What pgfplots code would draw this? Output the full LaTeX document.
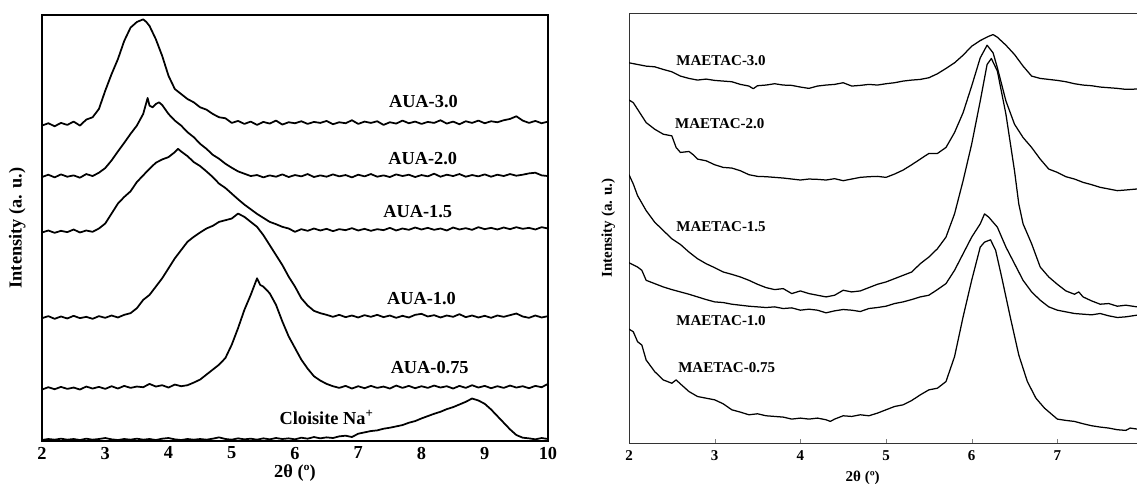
\documentclass[border=0pt]{standalone}
\usepackage{fontspec}
\setmainfont{Liberation Serif}
\usepackage{pgfplots}
\pgfplotsset{compat=1.18}

\newcommand{\lf}{\bfseries\fontsize{11}{13}\selectfont}
\newcommand{\rf}{\bfseries\fontsize{9}{11}\selectfont}

\pgfplotsset{
  xrd/.style={
    scale only axis,
    ytick=\empty,
    no markers,
    cycle list={{black}},
    /pgf/number format/assume math mode=true,
    every axis plot/.append style={line width=1.05pt, line join=round},
  },
}

\begin{document}
\begin{tikzpicture}
\path[use as bounding box] (0,0) rectangle (682.2pt,289.8pt);

% ---- left panel: AUA series ----
\begin{axis}[xrd,
  at={(25.2pt,25.2pt)}, anchor=south west,
  width=303.6pt, height=255.6pt,
  xmin=2, xmax=10, ymin=0, ymax=1283,
  xtick={2,3,...,10},
  major tick length=0pt,
  axis line style={line width=0.9pt},
  xticklabel style={font=\lf, yshift=0pt},
  xlabel={2θ (º)},
  ylabel={Intensity (a. u.)},
  every axis x label/.style={at={(axis description cs:0.5,0)}, anchor=center, yshift=-19.5pt, font=\lf},
  every axis y label/.style={at={(axis description cs:-0.021,0.5)}, rotate=90, anchor=south, font=\lf},
]
\addplot coordinates {(2.0,950) (2.1,957) (2.2,948) (2.3,958) (2.4,952) (2.5,962) (2.6,950) (2.7,968) (2.8,975) (2.9,1000) (3.0,1055) (3.1,1105) (3.2,1150) (3.3,1205) (3.4,1245) (3.5,1262) (3.6,1270) (3.65,1262) (3.7,1250) (3.8,1210) (3.9,1160) (4.0,1100) (4.1,1060) (4.2,1045) (4.3,1030) (4.4,1020) (4.5,1005) (4.6,998) (4.7,985) (4.8,975) (4.9,972)
(5.0,958) (5.1,964) (5.2,955) (5.3,962) (5.4,952) (5.5,961) (5.6,956) (5.7,965) (5.8,953) (5.9,960) (6.0,957) (6.1,963) (6.2,955) (6.3,961) (6.4,958) (6.5,964) (6.6,954) (6.7,960) (6.8,957) (6.9,966) (7.0,955) (7.1,962) (7.2,958) (7.3,963) (7.4,952) (7.5,960) (7.6,956) (7.7,965) (7.8,957) (7.9,962) (8.0,955) (8.1,961) (8.2,958) (8.3,966) (8.4,956) (8.5,962) (8.6,954) (8.7,963) (8.8,958) (8.9,965) (9.0,957) (9.1,963) (9.2,960) (9.3,966) (9.4,970) (9.5,978) (9.6,965) (9.7,958) (9.8,964) (9.9,957) (10.0,962)};
\addplot coordinates {(2.0,795) (2.1,802) (2.2,794) (2.3,803) (2.4,796) (2.5,800) (2.6,793) (2.7,804) (2.8,798) (2.9,808) (3.0,822) (3.1,845) (3.2,872) (3.3,898) (3.4,925) (3.5,950) (3.6,985) (3.67,1033) (3.7,1010) (3.75,1005) (3.8,1015) (3.85,1020) (3.9,1012) (4.0,985) (4.1,965) (4.2,950) (4.3,930) (4.4,915) (4.5,895) (4.6,880) (4.7,862) (4.8,850) (4.9,835) (5.0,823) (5.1,812) (5.2,805) (5.3,798) (5.4,801) (5.5,794) (5.6,800) (5.7,796) (5.8,803) (5.9,795) (6.0,801) (6.1,797) (6.2,804) (6.3,795) (6.4,800) (6.5,796) (6.6,803) (6.7,797) (6.8,801) (6.9,794) (7.0,802) (7.1,797) (7.2,804) (7.3,796) (7.4,800) (7.5,795) (7.6,803) (7.7,798) (7.8,802) (7.9,795) (8.0,801) (8.1,797) (8.2,805) (8.3,796) (8.4,802) (8.5,798) (8.6,804) (8.7,796) (8.8,801) (8.9,797) (9.0,803) (9.1,796) (9.2,802) (9.3,798) (9.4,804) (9.5,799) (9.6,802) (9.7,806) (9.8,808) (9.9,800) (10.0,798)};
\addplot coordinates {(2.0,628) (2.1,634) (2.2,627) (2.3,633) (2.4,629) (2.5,637) (2.6,628) (2.7,634) (2.8,630) (2.9,640) (3.0,655) (3.1,685) (3.2,715) (3.3,735) (3.4,752) (3.5,780) (3.6,800) (3.7,820) (3.8,838) (3.9,848) (4.0,855) (4.1,870) (4.15,880) (4.2,872) (4.3,858) (4.4,840) (4.5,828) (4.6,812) (4.7,795) (4.8,775) (4.9,762) (5.0,745) (5.1,728) (5.2,712) (5.3,698) (5.4,684) (5.5,672) (5.6,660) (5.7,653) (5.8,645) (5.9,640) (6.0,630) (6.1,638) (6.2,633) (6.3,640) (6.4,634) (6.5,639) (6.6,632) (6.7,638) (6.8,635) (6.9,641) (7.0,634) (7.1,639) (7.2,633) (7.3,638) (7.4,635) (7.5,642) (7.6,634) (7.7,640) (7.8,636) (7.9,643) (8.0,637) (8.1,642) (8.2,636) (8.3,640) (8.4,634) (8.5,643) (8.6,637) (8.7,641) (8.8,636) (8.9,644) (9.0,638) (9.1,642) (9.2,637) (9.3,643) (9.4,638) (9.5,644) (9.6,639) (9.7,642) (9.8,637) (9.9,644) (10.0,640)};
\addplot coordinates {(2.0,370) (2.1,376) (2.2,368) (2.3,375) (2.4,369) (2.5,377) (2.6,370) (2.7,374) (2.8,368) (2.9,376) (3.0,371) (3.1,378) (3.2,372) (3.3,380) (3.4,385) (3.5,400) (3.6,425) (3.7,440) (3.8,465) (3.9,490) (4.0,520) (4.1,550) (4.2,575) (4.3,600) (4.4,615) (4.5,628) (4.6,640) (4.7,648) (4.8,660) (4.9,665) (5.0,670) (5.1,685) (5.2,675) (5.3,660) (5.4,645) (5.5,620) (5.6,590) (5.7,560) (5.8,530) (5.9,495) (6.0,465) (6.1,430) (6.2,408) (6.3,392) (6.4,385) (6.5,380) (6.6,374) (6.7,380) (6.8,373) (6.9,378) (7.0,372) (7.1,379) (7.2,374) (7.3,380) (7.4,373) (7.5,378) (7.6,371) (7.7,377) (7.8,372) (7.9,380) (8.0,383) (8.1,375) (8.2,379) (8.3,372) (8.4,378) (8.5,374) (8.6,382) (8.7,373) (8.8,378) (8.9,372) (9.0,377) (9.1,371) (9.2,378) (9.3,374) (9.4,379) (9.5,384) (9.6,375) (9.7,371) (9.8,378) (9.9,372) (10.0,376)};
\addplot coordinates {(2.0,155) (2.1,162) (2.2,156) (2.3,163) (2.4,157) (2.5,161) (2.6,155) (2.7,164) (2.8,158) (2.9,163) (3.0,157) (3.1,165) (3.2,158) (3.3,166) (3.4,160) (3.5,164) (3.6,162) (3.7,172) (3.8,164) (3.9,168) (4.0,161) (4.1,170) (4.2,165) (4.3,168) (4.4,176) (4.5,185) (4.6,200) (4.7,215) (4.8,230) (4.9,250) (5.0,290) (5.1,340) (5.2,395) (5.3,440) (5.4,490) (5.45,470) (5.5,465) (5.6,445) (5.7,410) (5.8,360) (5.9,315) (6.0,280) (6.1,245) (6.2,218) (6.3,195) (6.4,182) (6.5,172) (6.6,165) (6.7,160) (6.8,166) (6.9,158) (7.0,165) (7.1,159) (7.2,166) (7.3,160) (7.4,164) (7.5,158) (7.6,167) (7.7,160) (7.8,166) (7.9,159) (8.0,165) (8.1,160) (8.2,167) (8.3,161) (8.4,165) (8.5,158) (8.6,166) (8.7,160) (8.8,168) (8.9,161) (9.0,166) (9.1,159) (9.2,165) (9.3,160) (9.4,167) (9.5,161) (9.6,165) (9.7,159) (9.8,166) (9.9,162) (10.0,172)};
\addplot coordinates {(2.0,3) (2.1,6) (2.2,4) (2.3,7) (2.4,4) (2.5,6) (2.6,3) (2.7,7) (2.8,4) (2.9,6) (3.0,9) (3.1,5) (3.2,3) (3.3,6) (3.4,4) (3.5,7) (3.6,4) (3.7,6) (3.8,3) (3.9,7) (4.0,9) (4.1,5) (4.2,3) (4.3,6) (4.4,4) (4.5,6) (4.6,4) (4.7,7) (4.8,11) (4.9,6) (5.0,4) (5.1,8) (5.2,5) (5.3,7) (5.4,4) (5.5,8) (5.6,5) (5.7,9) (5.8,6) (5.9,8) (6.0,5) (6.1,10) (6.2,7) (6.3,12) (6.4,8) (6.5,11) (6.6,9) (6.7,14) (6.8,16) (6.9,12) (7.0,22) (7.1,26) (7.2,30) (7.3,32) (7.4,37) (7.5,40) (7.6,44) (7.7,48) (7.8,55) (7.9,60) (8.0,68) (8.1,75) (8.2,82) (8.3,88) (8.4,96) (8.5,102) (8.6,110) (8.7,118) (8.8,128) (8.9,122) (9.0,112) (9.1,95) (9.2,75) (9.3,55) (9.4,35) (9.5,18) (9.6,10) (9.7,8) (9.8,5) (9.9,9) (10.0,6)};
\node[font=\lf] at (axis cs:8.03,1022) {AUA-3.0};
\node[font=\lf] at (axis cs:8.02,850) {AUA-2.0};
\node[font=\lf] at (axis cs:7.94,690) {AUA-1.5};
\node[font=\lf] at (axis cs:8.0,430) {AUA-1.0};
\node[font=\lf] at (axis cs:8.13,222) {AUA-0.75};
\node[font=\lf] at (axis cs:6.5,70) {Cloisite Na\textsuperscript{+}};
\end{axis}

% ---- right panel: MAETAC series ----
\begin{axis}[xrd,
  at={(377.4pt,24pt)}, anchor=south west,
  width=304.8pt, height=258pt,
  xmin=2, xmax=7.93, ymin=0, ymax=1295,
  xtick={2,3,...,7},
  axis x line*=box, axis y line*=left,
  xtick pos=left,
  major tick length=2.4pt,
  axis line style={line width=0.6pt, black!80},
  xticklabel style={font=\rf, yshift=-1pt},
  xlabel={2θ (º)},
  ylabel={Intensity (a. u.)},
  every axis x label/.style={at={(axis description cs:0.46,0)}, anchor=center, yshift=-21pt, font=\rf},
  every axis y label/.style={at={(axis description cs:-0.016,0.5)}, rotate=90, anchor=south, font=\rf},
  every axis plot/.append style={line width=0.75pt},
]
\addplot coordinates {(2.0,1145) (2.1,1140) (2.2,1135) (2.3,1133) (2.4,1125) (2.5,1118) (2.6,1105) (2.7,1098) (2.8,1093) (2.9,1096) (3.0,1092) (3.1,1090) (3.2,1088) (3.3,1080) (3.4,1075) (3.45,1067) (3.5,1076) (3.6,1078) (3.7,1082) (3.8,1078) (3.9,1077) (4.0,1072) (4.1,1068) (4.2,1075) (4.3,1078) (4.4,1080) (4.5,1085) (4.6,1075) (4.7,1077) (4.8,1080) (4.9,1078) (5.0,1082) (5.1,1085) (5.2,1090) (5.3,1093) (5.4,1095) (5.5,1100) (5.6,1112) (5.7,1128) (5.8,1145) (5.9,1168) (6.0,1195) (6.1,1212) (6.2,1225) (6.25,1230) (6.3,1222) (6.4,1198) (6.5,1170) (6.6,1135) (6.7,1105) (6.8,1098) (6.9,1095) (7.0,1092) (7.1,1088) (7.2,1082) (7.3,1078) (7.4,1076) (7.5,1072) (7.6,1070) (7.7,1068) (7.8,1065) (7.93,1066)};
\addplot coordinates {(2.0,1033) (2.05,1025) (2.1,1005) (2.2,965) (2.3,945) (2.4,930) (2.5,925) (2.55,890) (2.6,875) (2.7,878) (2.75,868) (2.8,855) (2.9,850) (3.0,838) (3.1,830) (3.2,828) (3.3,820) (3.4,808) (3.5,803) (3.6,802) (3.7,800) (3.8,798) (3.9,795) (4.0,792) (4.1,795) (4.2,794) (4.3,792) (4.4,796) (4.5,790) (4.6,795) (4.7,800) (4.8,802) (4.9,803) (5.0,800) (5.1,810) (5.2,822) (5.3,838) (5.4,855) (5.5,872) (5.6,872) (5.7,890) (5.8,935) (5.9,995) (6.0,1075) (6.1,1160) (6.18,1198) (6.25,1175) (6.3,1130) (6.4,1030) (6.5,960) (6.6,920) (6.7,890) (6.8,855) (6.9,825) (7.0,815) (7.1,802) (7.2,795) (7.3,785) (7.4,778) (7.5,770) (7.6,765) (7.7,760) (7.8,762) (7.93,765)};
\addplot coordinates {(2.0,808) (2.05,780) (2.1,745) (2.2,700) (2.3,665) (2.4,640) (2.5,615) (2.6,598) (2.7,575) (2.8,555) (2.9,540) (3.0,528) (3.1,515) (3.2,508) (3.3,500) (3.4,490) (3.5,478) (3.6,468) (3.7,462) (3.8,465) (3.9,450) (4.0,458) (4.1,450) (4.2,445) (4.3,440) (4.4,445) (4.5,460) (4.6,455) (4.7,458) (4.8,468) (4.9,478) (5.0,485) (5.1,495) (5.2,505) (5.3,515) (5.4,540) (5.5,560) (5.6,585) (5.7,620) (5.8,690) (5.9,790) (6.0,900) (6.1,1030) (6.18,1140) (6.23,1158) (6.3,1120) (6.4,990) (6.5,820) (6.55,720) (6.6,660) (6.7,600) (6.8,530) (6.9,500) (7.0,478) (7.1,458) (7.2,448) (7.25,455) (7.3,440) (7.4,428) (7.5,418) (7.6,420) (7.7,412) (7.8,415) (7.93,410)};
\addplot coordinates {(2.0,543) (2.1,530) (2.15,520) (2.2,490) (2.3,480) (2.4,470) (2.5,462) (2.6,455) (2.7,448) (2.8,440) (2.9,432) (3.0,425) (3.1,423) (3.2,418) (3.3,415) (3.4,412) (3.5,410) (3.6,408) (3.7,410) (3.8,405) (3.9,407) (4.0,400) (4.1,403) (4.2,400) (4.3,392) (4.4,398) (4.5,402) (4.6,400) (4.7,396) (4.8,405) (4.9,408) (5.0,412) (5.1,420) (5.2,425) (5.3,432) (5.4,440) (5.5,445) (5.6,462) (5.7,480) (5.8,520) (5.9,570) (6.0,620) (6.1,660) (6.15,690) (6.2,680) (6.3,650) (6.4,590) (6.5,540) (6.6,490) (6.7,455) (6.8,430) (6.9,410) (7.0,400) (7.1,395) (7.2,390) (7.3,388) (7.4,386) (7.5,390) (7.6,383) (7.7,378) (7.8,380) (7.93,385)};
\addplot coordinates {(2.0,343) (2.05,335) (2.1,305) (2.15,295) (2.2,250) (2.3,215) (2.4,190) (2.5,180) (2.55,190) (2.6,178) (2.7,155) (2.8,140) (2.9,135) (3.0,130) (3.1,118) (3.2,100) (3.3,93) (3.4,85) (3.5,88) (3.6,82) (3.7,80) (3.8,78) (3.9,72) (4.0,75) (4.1,72) (4.2,75) (4.3,70) (4.35,65) (4.4,72) (4.5,82) (4.6,80) (4.7,85) (4.8,82) (4.9,90) (5.0,100) (5.1,110) (5.2,115) (5.3,128) (5.4,145) (5.5,160) (5.6,165) (5.7,185) (5.8,260) (5.9,380) (6.0,490) (6.1,590) (6.15,605) (6.22,612) (6.28,580) (6.35,500) (6.45,380) (6.55,265) (6.65,185) (6.75,135) (6.85,105) (7.0,72) (7.1,68) (7.2,65) (7.3,58) (7.4,52) (7.5,48) (7.6,45) (7.7,40) (7.8,38) (7.85,45) (7.93,42)};
\node[font=\rf] at (axis cs:3.075,1153) {MAETAC-3.0};
\node[font=\rf] at (axis cs:3.06,961) {MAETAC-2.0};
\node[font=\rf] at (axis cs:3.075,651) {MAETAC-1.5};
\node[font=\rf] at (axis cs:3.075,368) {MAETAC-1.0};
\node[font=\rf] at (axis cs:3.14,226) {MAETAC-0.75};
\end{axis}
\end{tikzpicture}
\end{document}
